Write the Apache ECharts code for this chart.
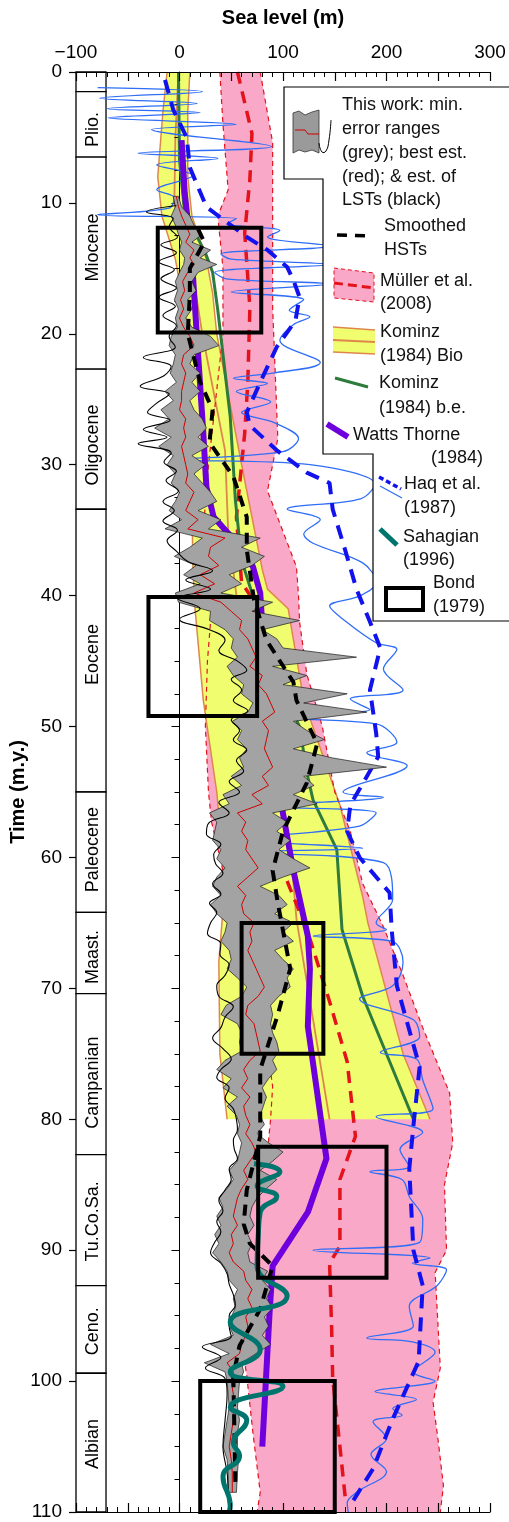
<!DOCTYPE html>
<html lang="en">
<head>
<meta charset="UTF-8">
<script src="https://cdn.jsdelivr.net/npm/echarts@6/dist/echarts.min.js"></script>
<title>Sea level curves</title>
</head>
<body style="margin:0;background:#fff">
<div id="container" style="width:509px;height:1522px"></div>
<script>
var FONT = '"Liberation Sans", Arial, Helvetica, sans-serif';

// ---- geological column (m.y.) ----
var epochEdges = [0, 1.5, 6.5, 22.7, 33.4, 55.0, 64.2, 70.4, 82.7, 92.7, 99.4, 110];
var epochNames = ['', 'Plio.', 'Miocene', 'Oligocene', 'Eocene', 'Paleocene', 'Maast.', 'Campanian', 'Tu.Co.Sa.', 'Ceno.', 'Albian'];
var epochLabelT = [0.7, 4.4, 13.4, 28.5, 44.5, 59.4, 67.6, 77.2, 87.8, 96.2, 104.8];

// ---- Müller et al. (2008) ----
var mullerLeftT = [0, 4, 9, 11, 15, 20, 25, 30, 35, 39, 41, 45, 50, 55, 57.3, 61.7, 64.7, 68.5, 72.4, 77.5, 80, 82.5, 86, 90.5, 95.5, 99.6, 104, 108.5, 110];
var mullerLeftV = [39, 42, 47, 37, 42, 42, 35, 28, 23, 20, 31, 27, 25, 28, 31, 44, 58, 65, 81, 90, 88, 85, 65, 60, 57, 65, 71, 78, 75];
var mullerRightT = [0, 5.4, 11, 18, 28, 32, 37.8, 40, 42, 46, 50, 55, 58, 62, 65.3, 69, 73, 78, 81.8, 85, 90, 91.7, 99, 101.6, 104.6, 108, 110];
var mullerRightV = [78, 90, 90, 90, 95, 85, 113, 115, 116, 123, 138, 150, 165, 177, 197, 216, 235, 261, 264, 256, 258, 247, 252, 245, 250, 255, 252];
var mullerMidT = [0, 4.7, 8.2, 12.3, 18, 23.7, 27.6, 34, 39, 40.3, 44.6, 49.7, 54.8, 59, 62.4, 65.7, 71, 75.6, 81.3, 84.6, 89.7, 91, 96, 99.8, 105, 108.8];
var mullerMidV = [56, 70, 68, 63, 68, 66, 63, 55, 60, 71, 76, 73, 78, 90, 107, 124, 145, 162, 170, 155, 155, 145, 147, 148, 155, 160];

// ---- Kominz (1984) Bio ----
var kbLeftT = [0, 3, 8, 11, 14.3, 16.9, 20, 33, 38, 41, 48, 55, 62, 68, 75, 80];
var kbLeftV = [-12, -16, -21, -17, -4, 2, 8, 12, 13, 15, 23, 36, 44, 38, 39, 46];
var kbRightT = [0, 3, 8, 11, 14.3, 16.9, 20, 30, 38, 39.5, 41, 48, 56, 63, 65, 75, 80];
var kbRightV = [10, 8, 8, 12, 26, 32, 36, 60, 80, 85, 105, 120, 155, 177, 182, 216, 242];
var kbMidT = [0, 5, 10, 14.3, 17, 20, 28.9, 35, 40, 47, 55, 60, 64.7, 80];
var kbMidV = [-1, -4, -5, 10, 16, 22, 44, 47, 55, 75, 95, 108, 113, 145];

// ---- Kominz (1984) b.e. ----
var kbeT = [0, 6.7, 10.8, 13.8, 15.3, 18.2, 26.3, 32.7, 37.3, 39.8, 44.7, 48, 50, 53.5, 55.6, 59.4, 65.5, 70.6, 80];
var kbeV = [-1, 0, 5, 25, 32, 37, 49, 54, 60, 70, 84, 104, 116, 123, 129, 152, 157, 177, 226];

// ---- Watts & Thorne (1984) ----
var wtT = [5.2, 9.2, 14.3, 18, 27.6, 31.7, 34, 35.5, 37.8, 39.8, 47.2, 52.3, 61, 66, 68.5, 72.9, 83, 87.1, 90, 91.2, 94.8, 105];
var wtV = [2, 5, 12, 15, 23, 26, 33, 50, 71, 78, 84, 90, 110, 124, 126, 124, 142, 124, 100, 90, 87, 80];

// ---- Haq et al. (1987) long term ----
var haqLT = [0.6, 2.9, 5, 7.3, 10.3, 11.5, 12.6, 13.6, 14.9, 15.9, 17.2, 19, 21, 23.7, 26, 27, 28.9, 30.6, 31.4, 33.4, 36.5, 39.5, 42, 44, 47.2, 50.5, 52.3, 56, 58, 60, 62.7, 65.5, 69.8, 76, 80.5, 83.8, 90, 92.7, 98.5, 102.9, 106.7, 109.5];
var haqLV = [-14, -6, 7, 10, 26, 46, 65, 85, 104, 110, 116, 112, 94, 78, 65, 68, 94, 123, 145, 148, 160, 171, 184, 194, 184, 190, 192, 165, 162, 174, 203, 205, 210, 232, 226, 222, 226, 235, 231, 206, 187, 165];

// ---- Haq et al. (1987) short term, [t, v] ----
var haqShort = [[1.2,-79],[1.5,22],[2.0,-77],[2.4,17],[2.8,-70],[3.1,20],[3.5,-69],[4.0,55],[4.4,-27],[5.7,89],[6.2,-40],[6.6,37],[7.1,-22],[7.9,13],[9.0,-22],[9.6,-5],[10.4,-10],[10.9,-79],[11.2,55],[11.6,46],[12.1,97],[12.6,85],[13.3,145],[13.9,40],[14.3,50],[14.7,145],[15.3,34],[15.8,45],[16.2,145],[16.8,50],[17.4,120],[18.2,106],[18.7,126],[19.3,110],[20.5,97],[22.2,136],[23.0,90],[23.4,52],[23.8,85],[24.4,55],[25.2,88],[26.0,60],[26.8,92],[28.0,115],[29.0,100],[29.6,3],[30.0,126],[31.5,189],[32.6,175],[33.4,104],[34.2,136],[35.3,120],[36.0,129],[37.5,177],[39.0,190],[40.0,175],[40.8,145],[41.8,158],[43.6,190],[44.1,210],[45.6,197],[47.2,216],[47.9,165],[48.7,184],[49.3,68],[49.8,190],[51.2,210],[52.0,181],[53.0,220],[55.0,158],[55.4,197],[56.1,78],[56.6,190],[57.6,174],[58.6,68],[59.3,177],[59.6,60],[60.4,197],[63.2,206],[65.0,190],[65.5,200],[66.0,129],[66.4,205],[68.0,216],[69.8,206],[70.8,174],[72.4,226],[73.7,232],[74.9,194],[75.4,229],[77.0,235],[79.2,245],[79.8,190],[81.0,235],[82.3,213],[83.6,222],[84.0,184],[84.6,215],[85.9,222],[87.6,235],[89.4,232],[90.0,129],[90.6,242],[91.0,225],[91.5,258],[92.7,249],[94.3,222],[95.8,226],[96.7,181],[97.0,225],[97.8,247],[99.3,226],[100.0,247],[100.8,189],[101.4,229],[102.1,206],[102.6,215],[103.1,187],[104.4,200],[105.6,185],[106.9,200],[108.5,171],[109.3,162],[110,163]];

// ---- This work: error range (grey), best estimate (red) ----
var grayT = [9.5,10.3,11.0,11.7,12.4,13.0,13.6,14.2,14.7,15.3,16.0,16.7,17.4,18.1,18.8,19.5,20.2,20.9,21.6,22.3,23.0,23.7,24.4,25.1,25.8,26.5,27.2,27.9,28.6,29.3,30.0,30.7,31.4,32.1,32.8,33.5,34.2,34.9,35.6,36.3,37.0,37.7,38.4,39.1,39.8,40.5,41.2,41.9,42.6,43.3,44.0,44.7,45.4,46.1,46.8,47.5,48.2,48.9,49.6,50.3,51.0,51.7,52.4,53.1,53.8,54.5,55.2,55.9,56.6,57.3,58.0,58.7,59.4,60.1,60.8,61.5,62.2,62.9,63.6,64.3,65.0,65.7,66.4,67.1,67.8,68.5,69.2,69.9,70.6,71.3,72.0,72.7,73.4,74.1,74.8,75.5,76.2,76.9,77.6,78.3,79.0,79.7,80.4,81.1,81.8,82.5,83.2,83.9,84.6,85.3,86.0,86.7,87.4,88.1,88.8,89.5,90.2,90.9,91.6,92.3,93.0,93.7,94.4,95.1,95.8,96.5,97.2,97.9,98.6,99.3,100.0,101.0,102.0,103.0,104.0,105.0,106.0,107.0,108.5];
var grayLo = [-6,-4,-8,-4,-1,2,0,5,4,0,-4,-2,-5,-1,-4,-2,-8,-10,-4,-6,-9,-3,-14,-6,-18,-10,-24,-8,-20,-6,-12,-4,-8,0,-4,-10,2,-14,22,10,-5,16,4,20,-4,-1,30,29,44,52,50,56,46,52,62,60,71,66,51,60,56,65,58,62,50,60,42,48,29,36,34,32,40,36,44,36,32,40,30,36,46,44,40,48,50,46,56,65,60,45,40,56,60,58,60,44,36,50,42,56,46,55,58,56,60,58,56,48,52,46,38,42,36,40,34,38,32,40,46,48,56,52,54,50,48,52,30,48,24,44,46,47,48,46,44,42,46,47,47];
var grayHi = [-1,2,10,14,22,12,30,20,36,18,12,16,8,12,6,12,30,38,14,10,20,12,20,10,14,22,26,18,28,12,25,14,22,30,36,18,40,28,78,60,82,70,48,60,40,90,70,116,80,94,100,171,90,123,100,162,120,181,110,123,140,110,148,200,120,130,110,133,90,104,94,107,96,110,126,100,78,96,104,92,110,100,110,92,100,110,104,107,96,88,90,88,90,94,96,90,94,86,80,84,81,78,82,75,86,100,90,78,94,84,75,70,68,72,66,70,66,68,85,80,88,84,90,82,86,80,88,74,60,62,58,57,56,58,56,56,57,56,55];
var grayBest = [-3,-1,2,6,10,6,14,10,14,8,3,5,1,4,0,4,10,14,4,2,6,4,2,2,0,6,4,6,2,4,6,8,6,14,10,6,18,8,44,30,28,38,20,34,14,40,50,60,58,66,70,74,68,80,76,84,88,92,80,86,84,82,86,90,80,86,70,80,56,64,60,66,64,70,76,66,56,64,60,62,72,68,70,66,70,74,78,82,76,66,64,72,74,76,78,68,62,66,60,68,62,64,68,64,70,74,68,62,66,60,56,54,52,56,50,52,48,52,62,64,70,66,70,64,66,64,60,58,46,52,50,52,52,52,50,48,50,51,51];

// ---- This work: LSTs (black), [t, v] ----
var lst = [[10.2,-3],[10.7,-32],[11.2,-6],[11.8,-10],[12.6,-2],[13.2,-18],[13.8,-3],[14.5,-20],[15.1,-5],[15.8,-18],[16.5,-3],[17.2,-20],[17.9,-4],[18.6,-16],[19.4,-3],[20.2,-10],[21,-4],[21.8,-35],[22.5,-8],[23.2,-15],[24,-38],[24.6,-10],[25.3,-22],[26,-31],[26.6,-9],[27.3,-35],[27.9,-12],[28.4,-40],[29.1,-8],[29.8,-15],[30.5,-3],[31.2,-13],[32,-1],[32.8,-16],[33.5,-5],[34.3,-16],[35,-2],[35.8,-12],[36.6,-3],[37.4,8],[38.1,32],[38.8,6],[39.5,30],[40.2,-2],[41,20],[41.8,0],[42.6,29],[43.4,44],[44.2,38],[45,56],[45.7,65],[46.4,50],[47.2,60],[48,52],[48.8,66],[49.5,50],[50.3,58],[51,52],[51.8,65],[52.6,55],[53.4,62],[54.2,48],[55,58],[55.8,38],[56.6,48],[57.4,28],[58.2,26],[59,40],[59.8,33],[60.5,35],[61.2,42],[62,32],[62.8,40],[63.5,29],[64.2,36],[65,30],[65.8,27],[66.6,40],[67.4,39],[68.2,48],[69,44],[69.8,36],[70.6,38],[71.4,52],[72.2,44],[73,40],[73.8,32],[74.6,42],[75.4,50],[76.2,40],[76.8,36],[77.6,48],[78.4,44],[79.2,52],[80,55],[80.8,56],[81.6,52],[82.3,53],[83,56],[83.8,48],[84.6,50],[85.4,44],[86.2,38],[87,42],[87.8,36],[88.6,40],[89.4,34],[90.2,30],[91,40],[91.8,46],[92.6,48],[93.4,52],[94.2,54],[95,48],[95.8,48],[96.6,50],[97.4,22],[98.2,40],[99,25],[99.8,44],[101,46],[103,44],[105,42],[107,46],[108.5,47]];

// ---- Smoothed HSTs ----
var hstT = [12, 13, 15, 17, 20, 23.7, 25.8, 28.3, 30.9, 34, 36.5, 40.3, 43.4, 46.6, 48, 51.3, 54.3, 58, 61, 63.5, 68.5, 72, 76.2, 81.3, 85.4, 88, 89.5, 91.2, 94.5, 97.3, 99.6, 107.7];
var hstV = [18, 24, 10, 10, 8, 20, 32, 29, 52, 65, 65, 72, 84, 110, 113, 133, 123, 100, 90, 95, 107, 95, 78, 78, 65, 62, 68, 90, 78, 58, 52, 54];

// ---- Sahagian (1996), [t, v] ----
var sahagian = [[83.4,72],[84,97],[85.1,75],[85.9,94],[87.1,78],[89,76],[91.2,75],[93.5,104],[95.5,49],[97.6,78],[99.3,49],[100.4,100],[102,49],[103,65],[104.7,52],[105.7,58],[107.3,42],[109.5,49],[110,48]];

// ---- Bond (1979) boxes: [vLeft, tTop, vRight, tBottom] ----
var bondBoxes = [[-21, 11.9, 79, 19.9], [-30, 40.1, 75, 49.2], [60, 65, 139, 75], [76, 82.1, 200, 92.1], [20, 100, 150, 110]];

function pairs(vs, ts) { return ts.map(function (t, i) { return [vs[i], t]; }); }
function flip(list) { return list.map(function (p) { return [p[1], p[0]]; }); }

function lineSeries(data, color, width, type, z, smooth) {
    return {
        type: 'line', data: data, z: z, smooth: smooth || false, symbol: 'none', silent: true,
        animation: false, lineStyle: { color: color, width: width, type: type || 'solid', cap: 'butt' }
    };
}

function bandSeries(lt, lv, rt, rv, fill, stroke, lw, z) {
    return {
        type: 'custom', z: z, silent: true, animation: false, data: [[lv[0], lt[0]]],
        renderItem: function (params, api) {
            var pts = [];
            for (var i = 0; i < lt.length; i++) pts.push(api.coord([lv[i], lt[i]]));
            for (var j = rt.length - 1; j >= 0; j--) pts.push(api.coord([rv[j], rt[j]]));
            return { type: 'polygon', shape: { points: pts }, style: { fill: fill, stroke: stroke, lineWidth: lw } };
        }
    };
}

var RED = '#e3121b', PINK = '#faa8c8', YEL = '#f0fd6e', ORA = '#de874c', GREEN = '#2e7b3b',
    PURP = '#6e00dd', BLUE = '#1212ee', LBLUE = '#2f6ef7', TEAL = '#00756d';

var myChart = echarts.init(document.getElementById('container'));

var epochData = epochNames.map(function (n, i) { return [-100, epochEdges[i], -71, epochEdges[i + 1], epochLabelT[i]]; });

var series = [
    // geological column
    {
        type: 'custom', z: 1, silent: true, animation: false, data: epochData,
        encode: { x: [0, 2], y: [1, 3] },
        renderItem: function (params, api) {
            var p1 = api.coord([api.value(0), api.value(1)]);
            var p2 = api.coord([api.value(2), api.value(3)]);
            var pc = api.coord([(api.value(0) + api.value(2)) / 2, api.value(4)]);
            return {
                type: 'group', children: [
                    { type: 'rect', shape: { x: p1[0], y: p1[1], width: p2[0] - p1[0], height: p2[1] - p1[1] },
                      style: { fill: '#fff', stroke: '#000', lineWidth: 1.3 } },
                    { type: 'text', x: pc[0] + 2, y: pc[1], rotation: Math.PI / 2,
                      style: { text: epochNames[params.dataIndex], x: 0, y: 0, align: 'center', verticalAlign: 'middle',
                               textAlign: 'center', textVerticalAlign: 'middle', fontSize: 18, fontFamily: FONT, fill: '#000' } }
                ]
            };
        }
    },
    bandSeries(mullerLeftT, mullerLeftV, mullerRightT, mullerRightV, PINK, null, 0, 1),
    bandSeries(kbLeftT, kbLeftV, kbRightT, kbRightV, YEL, null, 0, 2),
    lineSeries(pairs(kbLeftV, kbLeftT), ORA, 1.5, 'solid', 3),
    lineSeries(pairs(kbRightV, kbRightT), ORA, 1.5, 'solid', 3),
    lineSeries(pairs(kbMidV, kbMidT), ORA, 1.8, 'solid', 3),
    lineSeries(pairs(mullerLeftV, mullerLeftT), RED, 1.2, [5, 4], 4),
    lineSeries(pairs(mullerRightV, mullerRightT), RED, 1.2, [5, 4], 4),
    lineSeries(pairs(mullerMidV, mullerMidT), RED, 3.5, [12, 8], 4),
    lineSeries(pairs(kbeV, kbeT), GREEN, 3, 'solid', 5),
    lineSeries(flip(haqShort), LBLUE, 1.3, 'solid', 5, 0.35),
    lineSeries(pairs(haqLV, haqLT), BLUE, 4, [14, 9], 6),
    lineSeries(pairs(wtV, wtT), PURP, 6, 'solid', 6),
    bandSeries(grayT, grayLo, grayT, grayHi, '#a3a3a3', '#1a1a1a', 0.7, 7),
    lineSeries(pairs(grayBest, grayT), '#d00000', 1, 'solid', 8),
    lineSeries(flip(lst), '#000', 1.1, 'solid', 8, 0.4),
    lineSeries(pairs(hstV, hstT), '#000', 4, [11, 8], 9),
    lineSeries(flip(sahagian), TEAL, 5, 'solid', 9, 0.5),
    {
        type: 'custom', z: 10, silent: true, animation: false, data: bondBoxes,
        encode: { x: [0, 2], y: [1, 3] },
        renderItem: function (params, api) {
            var p1 = api.coord([api.value(0), api.value(1)]);
            var p2 = api.coord([api.value(2), api.value(3)]);
            return { type: 'rect', shape: { x: p1[0], y: p1[1], width: p2[0] - p1[0], height: p2[1] - p1[1] },
                     style: { fill: 'transparent', stroke: '#000', lineWidth: 4 } };
        }
    }
];

// legend drawn as graphic elements
function txt(x, y, s, align) {
    return { type: 'text', x: x, y: y, z: 101,
        style: { text: s, fontSize: 18, fontFamily: FONT, fill: '#111', align: align || 'left', textAlign: align || 'left',
                 verticalAlign: 'middle', textVerticalAlign: 'middle' } };
}
function seg(pts, color, width, dash) {
    return { type: 'polyline', z: 101, shape: { points: pts },
        style: { stroke: color, lineWidth: width, lineDash: dash || null, fill: null } };
}
var legend = [
    { type: 'polygon', z: 100, shape: { points: [[284, 87], [511, 87], [511, 621], [373, 621], [373, 454], [323, 454], [323, 179], [284, 179]] },
      style: { fill: '#fff', stroke: '#000', lineWidth: 1.2 } },
    { type: 'polygon', z: 101, shape: { points: [[293, 113], [299, 111], [305, 115], [312, 112], [319, 110], [319, 153], [312, 150], [305, 152], [299, 150], [293, 153]] },
      style: { fill: '#9a9a9a', stroke: '#333', lineWidth: 0.8 } },
    seg([[295, 130], [305, 130], [308, 134], [319, 134]], '#d00000', 1),
    { type: 'polyline', z: 101, shape: { points: [[319, 143], [322, 152], [326, 151], [329, 140], [331, 120]], smooth: 0.5 },
      style: { stroke: '#000', lineWidth: 1, fill: null } },
    txt(342, 105, 'This work: min.'), txt(342, 129, 'error ranges'), txt(342, 153, '(grey); best est.'),
    txt(342, 177, '(red); & est. of'), txt(342, 200, 'LSTs (black)'),
    seg([[337, 235], [371, 236]], '#000', 3.5, [10, 8]),
    txt(384, 226, 'Smoothed'), txt(384, 250, 'HSTs'),
    { type: 'polygon', z: 101, shape: { points: [[334, 268], [374, 273], [374, 302], [334, 298]] },
      style: { fill: PINK, stroke: RED, lineWidth: 1, lineDash: [4, 3] } },
    seg([[334, 283], [374, 288]], RED, 3, [9, 5]),
    txt(380, 281, 'Müller et al.'), txt(380, 304, '(2008)'),
    { type: 'polygon', z: 101, shape: { points: [[333, 327], [375, 330], [375, 354], [333, 352]] }, style: { fill: YEL } },
    seg([[333, 327], [375, 330]], ORA, 1.5), seg([[333, 340], [375, 342]], ORA, 2), seg([[333, 352], [375, 354]], ORA, 1.5),
    txt(380, 332, 'Kominz'), txt(380, 356, '(1984) Bio'),
    seg([[335, 378], [368, 387]], GREEN, 3),
    txt(379, 383, 'Kominz'), txt(379, 408, '(1984) b.e.'),
    seg([[327, 424], [348, 437]], PURP, 6),
    txt(353, 435, 'Watts Thorne'), txt(483, 458, '(1984)', 'right'),
    seg([[379, 477], [401, 489]], BLUE, 3.5, [5, 3]),
    seg([[380, 486], [402, 498]], LBLUE, 1.3),
    txt(404, 484, 'Haq et al.'), txt(404, 508, '(1987)'),
    seg([[380, 529], [397, 545]], TEAL, 5),
    txt(403, 537, 'Sahagian'), txt(403, 560, '(1996)'),
    { type: 'rect', z: 101, shape: { x: 386, y: 588, width: 37, height: 22 }, style: { fill: 'transparent', stroke: '#000', lineWidth: 4 } },
    txt(433, 583, 'Bond'), txt(433, 607, '(1979)')
];

function seaLabel(v) {
    if (v % 100 !== 0) return '';
    return v < 0 ? '\u2212' + (-v) : String(v);
}

var option = {
    animation: false,
    grid: { left: 76, right: 19, top: 72, bottom: 10, containLabel: false, outerBoundsMode: 'none' },
    xAxis: [
        {
            type: 'value', position: 'top', min: -100, max: 300, interval: 50, z: 11,
            name: 'Sea level (m)', nameLocation: 'middle', nameGap: 44,
            nameTextStyle: { fontSize: 20, fontWeight: 'bold', fontFamily: FONT, color: '#000' },
            axisLine: { onZero: false, lineStyle: { color: '#000', width: 1.2 } },
            axisTick: { inside: true, length: 9, lineStyle: { color: '#000', width: 1.2 } },
            minorTick: { show: true, splitNumber: 5, length: 5, lineStyle: { color: '#000', width: 1 } },
            axisLabel: { formatter: seaLabel, fontSize: 19, fontFamily: FONT, color: '#000', margin: 10 },
            splitLine: { show: false }
        },
        {
            type: 'value', position: 'bottom', min: -100, max: 300, interval: 50, z: 11,
            axisLine: { onZero: false, lineStyle: { color: '#000', width: 1.2 } },
            axisTick: { inside: true, length: 9, lineStyle: { color: '#000', width: 1.2 } },
            minorTick: { show: true, splitNumber: 5, length: 5, lineStyle: { color: '#000', width: 1 } },
            axisLabel: { show: false },
            splitLine: { show: false }
        }
    ],
    yAxis: [
        {
            type: 'value', inverse: true, min: 0, max: 110, interval: 10, position: 'left',
            name: 'Time (m.y.)', nameLocation: 'middle', nameGap: 48, nameMoveOverlap: false,
            nameTextStyle: { fontSize: 20, fontWeight: 'bold', fontFamily: FONT, color: '#000' },
            axisLine: { show: false, onZero: false },
            axisTick: { show: true, inside: false, length: 7, lineStyle: { color: '#000', width: 1.2 } },
            axisLabel: { fontSize: 19, fontFamily: FONT, color: '#000', margin: 14 },
            splitLine: { show: false }
        },
        {
            type: 'value', inverse: true, min: 0, max: 110, interval: 10, z: 4,
            axisLine: { show: true, onZero: true, onZeroAxisIndex: 0, lineStyle: { color: '#000', width: 1 } },
            axisTick: { inside: true, length: 8, lineStyle: { color: '#000', width: 1 } },
            minorTick: { show: true, splitNumber: 4, length: 5, lineStyle: { color: '#000', width: 1 } },
            axisLabel: { show: false },
            splitLine: { show: false }
        }
    ],
    graphic: { elements: legend },
    series: series
};

myChart.setOption(option);
</script>
</body>
</html>
